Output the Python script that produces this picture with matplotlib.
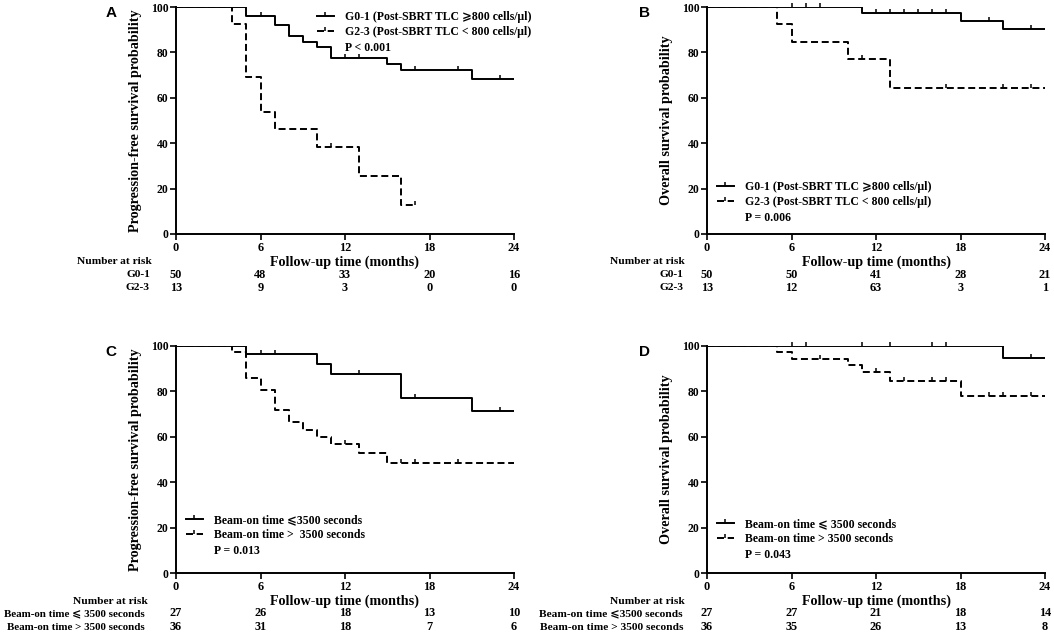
import numpy as np
import matplotlib
matplotlib.use("Agg")
import matplotlib.pyplot as plt
from matplotlib.lines import Line2D
from matplotlib.path import Path

plt.rcParams['font.family'] = ['Liberation Serif', 'DejaVu Sans']
plt.rcParams['font.weight'] = 'bold'

# ---------------- data ----------------
risk_times = [0, 6, 12, 18, 24]

# Panel A: PFS by TLC grade
A_g01_t = [0, 5, 7, 8, 9, 10, 11, 15, 16, 21, 24]
A_g01_s = [100, 96, 92, 87.1, 84.6, 82.4, 77.7, 75, 72.1, 68.1, 68.1]
A_g01_c = [6, 12, 13, 17, 20, 23]
A_g23_t = [0, 4, 5, 6, 7, 10, 13, 16, 17]
A_g23_s = [100, 92.3, 69.2, 53.8, 46.2, 38.5, 25.6, 12.8, 12.8]
A_g23_c = [11, 17]
A_risk_g01 = [50, 48, 33, 20, 16]
A_risk_g23 = [13, 9, 3, 0, 0]

# Panel B: OS by TLC grade
B_g01_t = [0, 11, 18, 21, 24]
B_g01_s = [100, 97.5, 94.0, 90.4, 90.4]
B_g01_c = [6, 7, 8, 12, 13, 14, 15, 16, 17, 20, 23]
B_g23_t = [0, 5, 6, 10, 13, 24]
B_g23_s = [100, 92.3, 84.6, 76.9, 64.1, 64.1]
B_g23_c = [11, 17, 21, 23]
B_risk_g01 = [50, 50, 41, 28, 21]
B_risk_g23 = [13, 12, 63, 3, 1]

# Panel C: PFS by beam-on time
C_le_t = [0, 5, 10, 11, 16, 21, 24]
C_le_s = [100, 96.3, 91.9, 87.5, 77.3, 71.4, 71.4]
C_le_c = [6, 7, 13, 17, 23]
C_gt_t = [0, 4, 5, 6, 7, 8, 9, 10, 11, 13, 15, 24]
C_gt_s = [100, 97.2, 86.1, 80.6, 71.9, 66.4, 63.1, 60.0, 57.0, 53.0, 48.6, 48.6]
C_gt_c = [12, 16, 17, 20]
C_risk_le = [27, 26, 18, 13, 10]
C_risk_gt = [36, 31, 18, 7, 6]

# Panel D: OS by beam-on time
D_le_t = [0, 21, 24]
D_le_s = [100, 94.6, 94.6]
D_le_c = [6, 7, 11, 13, 16, 17, 23]
D_gt_t = [0, 5, 6, 10, 11, 13, 18, 24]
D_gt_s = [100, 97.2, 94.4, 91.7, 88.6, 84.6, 77.8, 77.8]
D_gt_c = [8, 12, 14, 16, 17, 20, 21, 23]
D_risk_le = [27, 27, 21, 18, 14]
D_risk_gt = [36, 35, 26, 13, 8]

# ---------------- style ----------------
W, H = 1054, 633
fig = plt.figure(figsize=(W / 100, H / 100), dpi=100)

tick_up = Path([(0, 0), (0, 1)], [Path.MOVETO, Path.LINETO])
LW = 1.4
DASH = (3.6, 1.9)


def px_axes(left, top, right, bottom):
    return fig.add_axes([left / W, 1 - bottom / H, (right - left) / W, (bottom - top) / H])


def surv_at(t, s, x):
    idx = np.searchsorted(np.asarray(t), x, side='right') - 1
    return np.asarray(s)[idx]


def draw_curve(ax, t, s, cens, dashed):
    line, = ax.step(t, s, where='post', color='black', lw=LW)
    if dashed:
        line.set_dashes(DASH)
    cy = surv_at(t, s, cens)
    ax.plot(cens, cy, ls='none', marker=tick_up, ms=6, mew=1.1, color='black',
            clip_on=False)


def setup_axes(ax, ylabel):
    ax.set_xlim(0, 24)
    ax.set_ylim(0, 100)
    ax.set_xticks(risk_times)
    ax.set_yticks([0, 20, 40, 60, 80, 100])
    for sp in ['top', 'right']:
        ax.spines[sp].set_visible(False)
    for sp in ['left', 'bottom']:
        ax.spines[sp].set_linewidth(1.4)
    ax.tick_params(axis='y', labelsize=8.4, length=4, width=1.2, pad=1.5)
    ax.tick_params(axis='x', labelsize=8.8, length=4, width=1.2, pad=2)
    for lab in ax.get_xticklabels() + ax.get_yticklabels():
        lab.set_fontweight('bold')
    ax.set_ylabel(ylabel, fontsize=10.2, fontweight='bold')
    ax.yaxis.set_label_coords(-34 / 338, 0.5)
    ax.set_xlabel('Follow-up time (months)', fontsize=10.2, fontweight='bold', labelpad=0.5)


def risk_table(ax, labels, rows, label_dx, fs=8.2):
    ax.text(label_dx + 0.006 + (8.2 - fs) * 0.012, -28 / 227, 'Number at risk',
            transform=ax.transAxes, ha='right', va='center', fontsize=8.2, fontweight='bold')
    for r, (lab, vals) in enumerate(zip(labels, rows)):
        yy = -(40.5 + 13.5 * r) / 227
        ax.text(label_dx, yy, lab, transform=ax.transAxes, ha='right', va='center',
                fontsize=fs, fontweight='bold')
        for x, v in zip(risk_times, vals):
            ax.annotate(str(v), xy=(x, yy), xycoords=('data', 'axes fraction'),
                        ha='center', va='center', fontsize=8.8, fontweight='bold',
                        annotation_clip=False)


def legend(ax, labels, ptext, anchor):
    h1 = Line2D([], [], color='black', lw=LW, marker=tick_up, ms=6, mew=1.1)
    h2 = Line2D([], [], color='black', lw=LW, dashes=DASH, marker=tick_up, ms=6, mew=1.1)
    h3 = Line2D([], [], ls='none')
    leg = ax.legend([h1, h2, h3], labels + [ptext], loc='upper left', bbox_to_anchor=anchor,
                    frameon=False, fontsize=8.5, handlelength=1.4, handletextpad=1.0,
                    labelspacing=0.28, borderpad=0, borderaxespad=0)
    for t in leg.get_texts():
        t.set_fontweight('bold')
    return leg


tlc_labels = ['G0-1 (Post-SBRT TLC \u2a7e800 cells/\u03bcl)',
              'G2-3 (Post-SBRT TLC < 800 cells/\u03bcl)']

# Panel A
axA = px_axes(176, 7, 514, 234)
draw_curve(axA, A_g01_t, A_g01_s, A_g01_c, False)
draw_curve(axA, A_g23_t, A_g23_s, A_g23_c, True)
setup_axes(axA, 'Progression-free survival probability')
legend(axA, tlc_labels, 'P < 0.001', ((317 - 176) / 338, 1 - 4 / 227))
risk_table(axA, ['G0-1', 'G2-3'], [A_risk_g01, A_risk_g23], -26 / 338)

# Panel B
axB = px_axes(707, 7, 1045, 234)
draw_curve(axB, B_g01_t, B_g01_s, B_g01_c, False)
draw_curve(axB, B_g23_t, B_g23_s, B_g23_c, True)
setup_axes(axB, 'Overall survival probability')
legend(axB, tlc_labels, 'P = 0.006', ((717 - 707) / 338, (234 - 181) / 227))
risk_table(axB, ['G0-1', 'G2-3'], [B_risk_g01, B_risk_g23], -24 / 338)

# Panel C
axC = px_axes(176, 346, 514, 573)
draw_curve(axC, C_le_t, C_le_s, C_le_c, False)
draw_curve(axC, C_gt_t, C_gt_s, C_gt_c, True)
setup_axes(axC, 'Progression-free survival probability')
legend(axC, ['Beam-on time \u2a7d3500 seconds', 'Beam-on time >  3500 seconds'], 'P = 0.013',
       ((186 - 176) / 338, (573 - 514) / 227))
risk_table(axC, ['Beam-on time \u2a7d 3500 seconds', 'Beam-on time > 3500 seconds'],
           [C_risk_le, C_risk_gt], -31 / 338, fs=7.9)

# Panel D
axD = px_axes(707, 346, 1045, 573)
draw_curve(axD, D_le_t, D_le_s, D_le_c, False)
draw_curve(axD, D_gt_t, D_gt_s, D_gt_c, True)
setup_axes(axD, 'Overall survival probability')
legend(axD, ['Beam-on time \u2a7d 3500 seconds', 'Beam-on time > 3500 seconds'], 'P = 0.043',
       ((717 - 707) / 338, (573 - 518) / 227))
risk_table(axD, ['Beam-on time \u2a7d3500 seconds', 'Beam-on time > 3500 seconds'],
           [D_risk_le, D_risk_gt], -24 / 338)

# panel letters
for letter, (x, y) in zip('ABCD', [(111, 13), (644, 13), (111, 352), (644, 352)]):
    fig.text(x / W, 1 - y / H, letter, fontsize=11, fontweight='bold',
             family=['Liberation Sans', 'DejaVu Sans'], ha='center', va='center')

fig.savefig('out.png', dpi=100)
